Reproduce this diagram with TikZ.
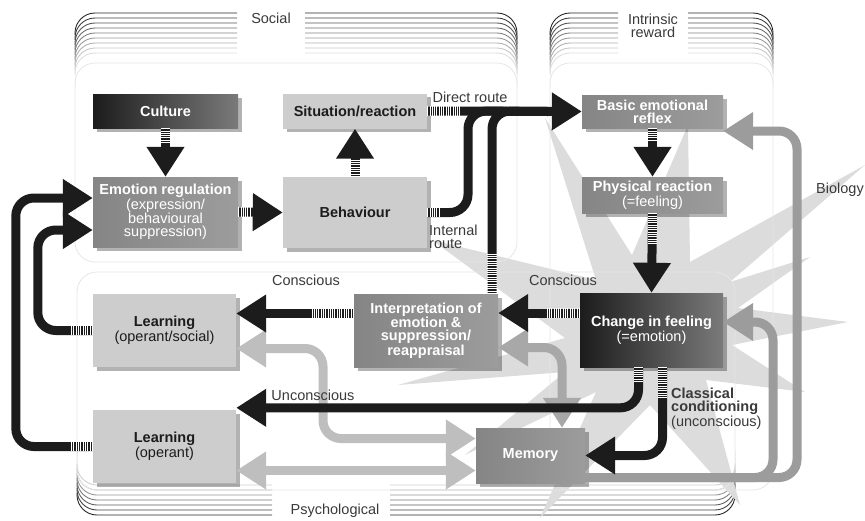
\documentclass[tikz,border=0pt]{standalone}
\usepackage{fontspec}
\setmainfont{Liberation Sans}
\usetikzlibrary{arrows.meta,shadows,calc}
\definecolor{ink}{HTML}{1C1C1C}
\definecolor{lbl}{HTML}{3A3A3A}
\definecolor{lightbox}{HTML}{CDCDCD}
\definecolor{midL}{HTML}{858585}
\definecolor{midR}{HTML}{9C9C9C}
\definecolor{darkR}{HTML}{7A7A7A}
\definecolor{burst}{HTML}{DCDCDC}
\definecolor{greyA}{HTML}{9C9C9C}
\definecolor{greyB}{HTML}{BEBEBE}
\definecolor{greyC}{HTML}{A8A8A8}
\definecolor{panelc}{HTML}{E6E6E6}
\tikzset{
  bx/.style={draw=none, inner sep=0pt, align=center, font=\fontsize{14.5}{13}\selectfont,
    drop shadow={shadow xshift=3.5pt, shadow yshift=-3.5pt, opacity=0.3, fill=black}},
  lightbx/.style={bx, fill=lightbox, text=ink},
  midbx/.style={bx, left color=midL, right color=midR, text=white},
  darkbx/.style={bx, left color=ink, right color=darkR, text=white},
  lab/.style={font=\fontsize{14.5}{13}\selectfont, text=lbl, inner sep=0pt},
  blk/.style={draw=ink, line width=9pt, rounded corners=18pt, -{Triangle[width=36pt,length=30pt]}},
  blkline/.style={draw=ink, line width=9pt, rounded corners=18pt},
  gry/.style={line width=9pt, rounded corners=18pt, {Triangle[width=36pt,length=30pt]}-{Triangle[width=36pt,length=30pt]}},
  gryone/.style={line width=9pt, rounded corners=18pt, -{Triangle[width=36pt,length=30pt]}},
  strp/.style={draw=white, line width=9.6pt, dash pattern=on 1pt off 1.3pt},
  panel/.style={draw=panelc, line width=0.8pt, rounded corners=20pt},
  frm/.style={line width=0.9pt, rounded corners=20pt},
}
\begin{document}
\begin{tikzpicture}[x=1pt,y=-1pt]
\useasboundingbox (0,0) rectangle (865,520);
% stacked frames
\foreach \i in {0,...,8}{
  \pgfmathtruncatemacro\k{85-9*\i}
  \pgfmathtruncatemacro\kk{(85-9*\i)/3}
  \pgfmathsetmacro\yy{13+5*\i}
  \draw[frm, black!\k] (237,\yy) -- (75,\yy) -- (75,\yy+22);
  \draw[frm, black!\k] (305,\yy) -- (517,\yy) -- (517,\yy+22);
  \draw[frm, black!\k] (618,\yy) -- (550,\yy) -- (550,\yy+22);
  \draw[frm, black!\k] (688,\yy) -- (773,\yy) -- (773,\yy+22);
  \draw[black!\kk, line width=0.9pt] (75,\yy+21) -- (75,\yy+34);
  \draw[black!\kk, line width=0.9pt] (517,\yy+21) -- (517,\yy+34);
  \draw[black!\kk, line width=0.9pt] (550,\yy+21) -- (550,\yy+34);
  \draw[black!\kk, line width=0.9pt] (773,\yy+21) -- (773,\yy+34);
}
\foreach \i in {0,...,6}{
  \pgfmathtruncatemacro\k{85-11*\i}
  \pgfmathtruncatemacro\kk{(85-11*\i)/3}
  \pgfmathsetmacro\yy{515-5*\i}
  \draw[frm, black!\k] (272,\yy) -- (77,\yy) -- (77,\yy-22);
  \draw[frm, black!\k] (390,\yy) -- (735,\yy) -- (735,\yy-22);
  \draw[black!\kk, line width=0.9pt] (77,\yy-21) -- (77,\yy-34);
  \draw[black!\kk, line width=0.9pt] (735,\yy-21) -- (735,\yy-34);
}
% starburst
\fill[burst] (545,118) -- (632,255) -- (688,125) -- (690,262) -- (865,165) -- (730,282)
  -- (810,257) -- (738,308) -- (848,322) -- (732,345) -- (805,392) -- (706,380)
  -- (740,505) -- (650,405) -- (540,518) -- (596,392) -- (465,455) -- (565,372)
  -- (398,385) -- (565,338) -- (432,240) -- (596,280) -- cycle;
% faint panels
\draw[panel] (75,63) rectangle (517,262);
\draw[panel] (550,63) rectangle (773,490);
\draw[panel] (77,272) rectangle (735,490);
% boxes
\node[darkbx, minimum width=145pt, minimum height=34pt] (cult) at (165.5,111) {\bfseries Culture};
\node[lightbx, minimum width=144pt, minimum height=35pt] (sit) at (355,111) {\bfseries Situation/reaction};
\node[midbx, minimum width=145pt, minimum height=70pt] (emo) at (165.5,212) {\textbf{Emotion regulation}\\(expression/\\behavioural\\suppression)};
\node[lightbx, minimum width=144pt, minimum height=71pt] (beh) at (355,212.5) {\bfseries Behaviour};
\node[midbx, minimum width=141pt, minimum height=33pt] (bas) at (652.5,111.5) {\bfseries Basic emotional\\\bfseries reflex};
\node[midbx, minimum width=141pt, minimum height=36pt] (phy) at (652.5,195) {\textbf{Physical reaction}\\(=feeling)};
\node[darkbx, minimum width=143pt, minimum height=74pt] (chg) at (651.5,330) {\textbf{Change in feeling}\\(=emotion)};
\node[midbx, minimum width=144pt, minimum height=73pt] (intp) at (426,330.5) {\bfseries Interpretation of\\\bfseries emotion \&\\\bfseries suppression/\\\bfseries reappraisal};
\node[lightbx, minimum width=143pt, minimum height=73pt] (lsoc) at (164.5,330.5) {\textbf{Learning}\\(operant/social)};
\node[lightbx, minimum width=143pt, minimum height=73pt] (lop) at (164.5,446.5) {\textbf{Learning}\\(operant)};
\node[midbx, minimum width=109pt, minimum height=55pt] (mem) at (530.5,455.5) {\bfseries Memory};
% grey connectors
\draw[gry, draw=greyB] ($(lsoc.east)+(0,18)$) -- (323,348.5) -- (323,438.5) -- ($(mem.west)+(0,-17)$);
\draw[gry, draw=greyB] ($(lop.east)+(0,24)$) -- ($(mem.west)+(0,15)$);
\draw[gry, draw=greyC] ($(intp.east)+(0,17)$) -- (562,347.5) -- (562,0 |- mem.north);
\draw[gryone, draw=greyA] ($(mem.east)+(0,22)$) -- (797,477.5) -- (797,131) -- ($(bas.east)+(0,19.5)$);
\draw[gryone, draw=greyA] ($(mem.east)+(0,22)$) -- (773,477.5) -- (773,322) -- ($(chg.east)+(0,-8)$);
% black connectors
\draw[blk] (cult.south) -- (emo.north);
\draw[blk] (emo.east) -- (beh.west);
\draw[blk] (beh.north) -- (sit.south);
\draw[blkline] (beh.east) -- (468,212.5) -- (468,111) -- ($(bas.west)+(-34,0)$);
\draw[blkline] ($(intp.north east)+(-6,0)$) -- (492,111) -- ($(bas.west)+(-34,0)$);
\draw[blk] (sit.east) -- (bas.west);
\draw[blk] (bas.south) -- (phy.north);
\draw[blk] (phy.south) -- (chg.north);
\draw[blk] ($(chg.west)+(0,-17)$) coordinate (c9) -- (c9 -| intp.east);
\draw[blk] ($(intp.west)+(0,-17)$) coordinate (c10) -- (c10 -| lsoc.east);
\draw[blk] ($(chg.south)+(-13,0)$) coordinate (c11) |- ($(lop.north east)+(0,-2)$);
\draw[blk] ($(chg.south)+(11,0)$) coordinate (c12) |- (mem.east);
\draw[blk] (lop.west) -- ++(-77,0) |- ($(emo.west)+(0,-14)$);
\draw[blk] (lsoc.west) -- ++(-55,0) |- ($(emo.west)+(0,18)$);
% striped tails
\draw[strp] (cult.south) -- ++(0,16);
\draw[strp] (emo.east) -- ++(13,0);
\draw[strp] (beh.north) -- ++(0,-17);
\draw[strp] (sit.east) -- ++(33,0);
\draw[strp] (beh.east) -- ++(12,0);
\draw[strp] ($(intp.north east)+(-6,0)$) -- ++(0,-40);
\draw[strp] (bas.south) -- ++(0,13);
\draw[strp] (phy.south) -- ++(0,32);
\draw[strp] (c9) -- ++(-34,0);
\draw[strp] (c10) -- ++(-42,0);
\draw[strp] (c11) -- ++(0,15);
\draw[strp] (c12) -- ++(0,32);
\draw[strp] (lop.west) -- ++(-22,0);
\draw[strp] (lsoc.west) -- ++(-22,0);
% labels
\node[lab] (tsoc) at (271,18) {Social};
\node[lab, align=center] (tint) at (653,26) {Intrinsic\\reward};
\node[lab] (tpsy) at (335,511) {Psychological};
\node[lab] (tdir) at (470,97) {Direct route};
\node[lab, align=left, anchor=west] (tinr) at (429,236.5) {Internal\\route};
\node[lab] (tcon1) at (306,280) {Conscious};
\node[lab] (tcon2) at (563,280) {Conscious};
\node[lab] (tunc) at (313,395) {Unconscious};
\node[lab, align=left, anchor=west] (tcla) at (671,408.5) {\textbf{Classical}\\\textbf{conditioning}\\(unconscious)};
\node[lab] (tbio) at (840,190) {Biology};
\end{tikzpicture}
\end{document}
